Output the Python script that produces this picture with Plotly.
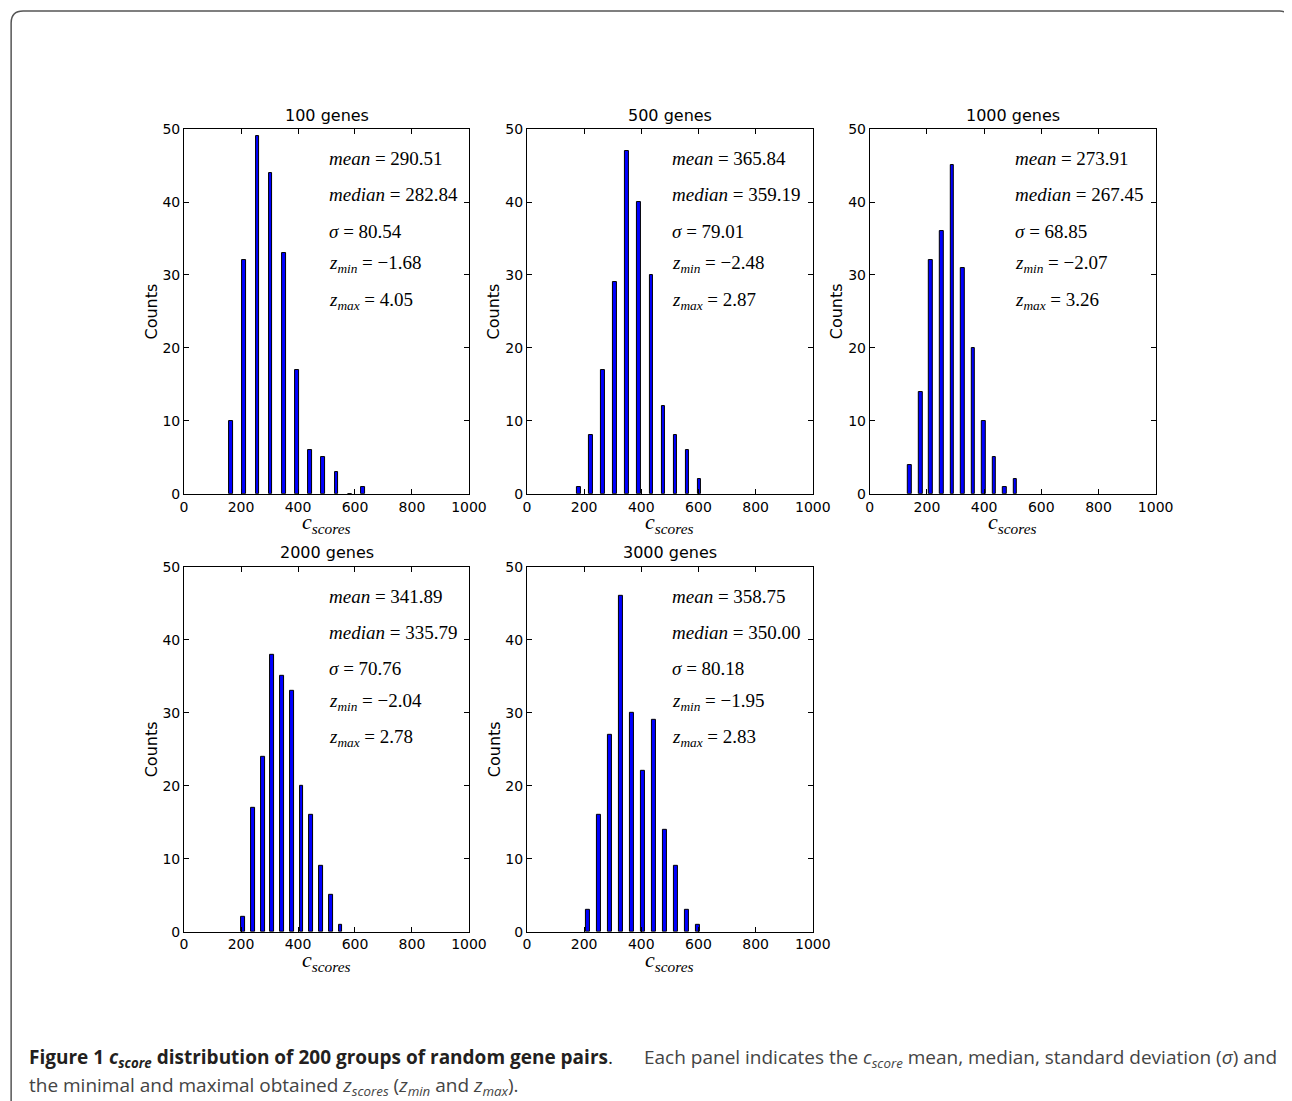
import plotly.graph_objects as go

# panel data (bar left position, count)
titles = ["100 genes", "500 genes", "1000 genes", "2000 genes", "3000 genes"]

pos_100 = [159, 205, 251, 297, 344, 390, 436, 482, 529, 575, 621]
cnt_100 = [10, 32, 49, 44, 33, 17, 6, 5, 3, 0, 1]
pos_500 = [175, 217, 260, 301, 343, 386, 429, 471, 513, 555, 597]
cnt_500 = [1, 8, 17, 29, 47, 40, 30, 12, 8, 6, 2]
pos_1000 = [134, 172, 208, 245, 282, 319, 356, 393, 429, 466, 502]
cnt_1000 = [4, 14, 32, 36, 45, 31, 20, 10, 5, 1, 2]
pos_2000 = [201, 236, 270, 303, 338, 372, 406, 440, 475, 509, 543]
cnt_2000 = [2, 17, 24, 38, 35, 33, 20, 16, 9, 5, 1]
pos_3000 = [206, 245, 283, 322, 360, 399, 437, 476, 514, 552, 591]
cnt_3000 = [3, 16, 27, 46, 30, 22, 29, 14, 9, 3, 1]

means = ["290.51", "365.84", "273.91", "341.89", "358.75"]
medians = ["282.84", "359.19", "267.45", "335.79", "350.00"]
sigmas = ["80.54", "79.01", "68.85", "70.76", "80.18"]
zmins = ["−1.68", "−2.48", "−2.07", "−2.04", "−1.95"]
zmaxs = ["4.05", "2.87", "3.26", "2.78", "2.83"]

x_ticks = [0, 200, 400, 600, 800, 1000]
y_ticks = [0, 10, 20, 30, 40, 50]

positions = [pos_100, pos_500, pos_1000, pos_2000, pos_3000]
counts = [cnt_100, cnt_500, cnt_1000, cnt_2000, cnt_3000]

W, H = 1303, 1102
# the photographed page comes out slightly shrunk and shifted; map wanted
# picture pixels back to figure pixels (body margin is 8px)
SX, BX = 0.9835, 3
SY, BY = 0.986, 7
OFF = 8

def fx(x):
    return ((x - BX) / SX - OFF) / W

def fy(y):
    return 1 - ((y - BY) / SY - OFF) / H

# axes boxes in picture pixels (left, right, top, bottom)
boxes = [(183, 468, 128, 493), (526, 812, 128, 493), (869, 1155, 128, 493),
         (183, 468, 566, 931), (526, 812, 566, 931)]

sans = "DejaVu Sans"
serif = "Liberation Serif"

fig = go.Figure()
layout = {}
annotations = []

for i in range(5):
    n = "" if i == 0 else str(i + 1)
    l, r, t, b = boxes[i]
    fig.add_trace(go.Bar(
        x=positions[i], y=counts[i], width=13, offset=0,
        marker=dict(color="#0000ff", line=dict(color="black", width=1)),
        xaxis="x" + n, yaxis="y" + n, showlegend=False,
    ))
    layout["xaxis" + n] = dict(
        domain=[fx(l), fx(r)], anchor="y" + n, range=[0, 1000],
        tickvals=x_ticks, ticks="inside", ticklen=5, tickcolor="black",
        showline=True, linecolor="black", linewidth=1, mirror="ticks",
        showgrid=False, zeroline=False,
        tickfont=dict(family=sans, size=14, color="black"),
    )
    layout["yaxis" + n] = dict(
        domain=[fy(b), fy(t)], anchor="x" + n, range=[0, 50],
        tickvals=y_ticks, ticks="inside", ticklen=5, tickcolor="black",
        showline=True, linecolor="black", linewidth=1, mirror="ticks",
        showgrid=False, zeroline=False,
        tickfont=dict(family=sans, size=14, color="black"),
    )
    cx = fx((l + r) / 2)
    annotations.append(dict(text=titles[i], xref="paper", yref="paper",
                            x=cx, y=fy(t - 14), xanchor="center", yanchor="middle",
                            showarrow=False,
                            font=dict(family=sans, size=16, color="black")))
    annotations.append(dict(text="<i>c</i><sub><i>scores</i></sub>", xref="paper", yref="paper",
                            x=cx, y=fy(b + 29), xanchor="center", yanchor="middle",
                            showarrow=False,
                            font=dict(family=serif, size=22, color="black")))
    annotations.append(dict(text="Counts", xref="paper", yref="paper", textangle=-90,
                            x=fx(l - 33), y=fy((t + b) / 2), xanchor="center", yanchor="middle",
                            showarrow=False,
                            font=dict(family=sans, size=16, color="black")))
    stats = ["<i>mean</i> = " + means[i], "<i>median</i> = " + medians[i],
             "<i>σ</i> = " + sigmas[i],
             "<i>z</i><sub><i>min</i></sub> = " + zmins[i],
             "<i>z</i><sub><i>max</i></sub> = " + zmaxs[i]]
    for s, yy in zip(stats, [46, 41, 36, 31.5, 26.5]):
        annotations.append(dict(text=s, xref="x" + n, yref="y" + n, x=500, y=yy,
                                xanchor="left", yanchor="middle", showarrow=False,
                                font=dict(family=serif, size=19, color="black")))

# caption
cap = "Open Sans"
annotations.append(dict(
    text="<b>Figure 1 <i>c</i><sub><i>score</i></sub> distribution of 200 groups of random gene pairs</b>.",
    xref="paper", yref="paper", x=fx(26), y=fy(1057), xanchor="left", yanchor="middle",
    showarrow=False, font=dict(family=cap, size=19, color="#231f20")))
annotations.append(dict(
    text="Each panel indicates the <i>c</i><sub><i>score</i></sub> mean, median, standard deviation (<i>σ</i>) and",
    xref="paper", yref="paper", x=fx(1278), y=fy(1057), xanchor="right", yanchor="middle",
    showarrow=False, font=dict(family=cap, size=19, color="#444")))
annotations.append(dict(
    text="the minimal and maximal obtained <i>z</i><sub><i>scores</i></sub> (<i>z</i><sub><i>min</i></sub> and <i>z</i><sub><i>max</i></sub>).",
    xref="paper", yref="paper", x=fx(26), y=fy(1085), xanchor="left", yanchor="middle",
    showarrow=False, font=dict(family=cap, size=19, color="#444")))

# rounded frame around the figure
def pt(x, y):
    return f"{fx(x):.5f},{fy(y):.5f}"

frame = ("M " + pt(10, 1101) + " L " + pt(10, 22) + " Q " + pt(10, 10) + " " + pt(22, 10)
         + " L " + pt(1279, 10) + " Q " + pt(1290, 10) + " " + pt(1290, 22)
         + " L " + pt(1290, 1101))

layout.update(
    width=W, height=H, margin=dict(l=0, r=0, t=0, b=0),
    paper_bgcolor="white", plot_bgcolor="white", bargap=0,
    annotations=annotations,
    shapes=[dict(type="path", path=frame, xref="paper", yref="paper",
                 line=dict(color="#555", width=1.5))],
)
fig.update_layout(**layout)
fig.write_html("out.html")
